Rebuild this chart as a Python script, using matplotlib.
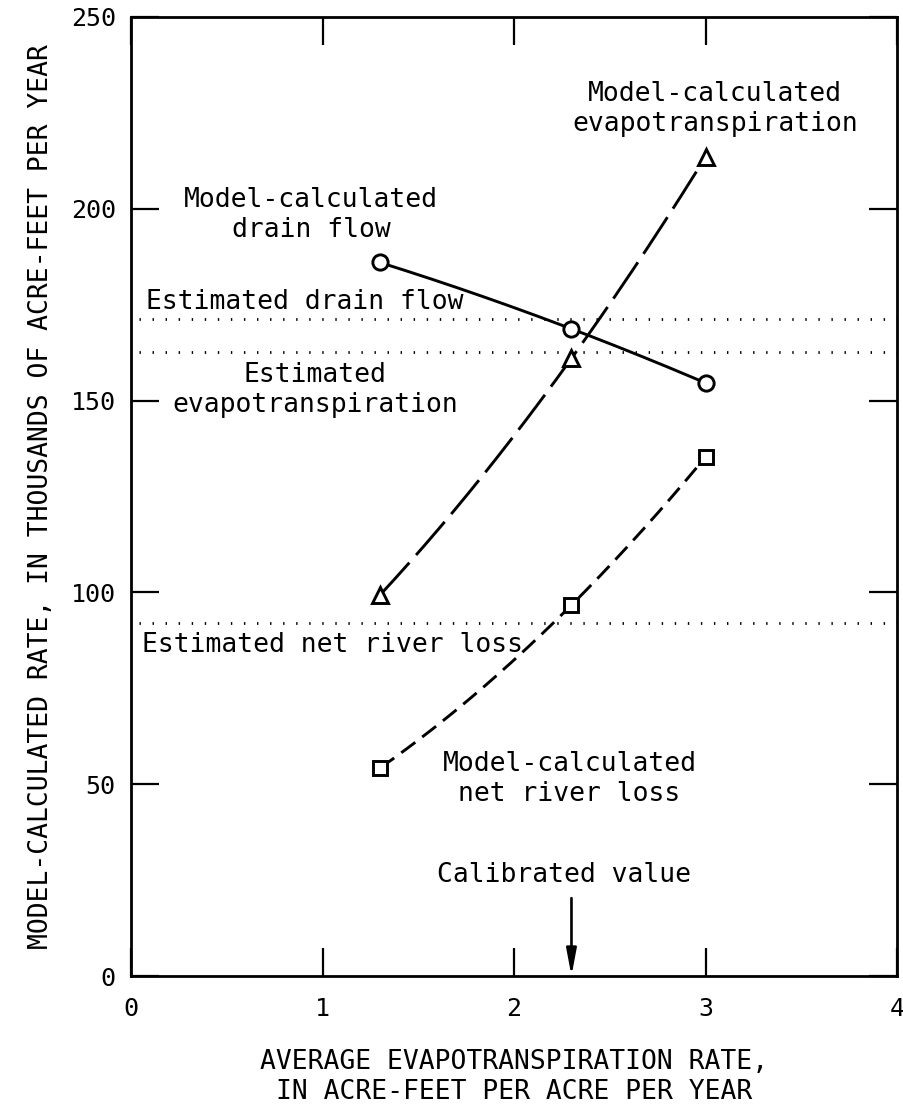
import numpy as np
import matplotlib.pyplot as plt

plt.rcParams['font.family'] = ['DejaVu Sans Mono']

# values
et_rate = [1.3, 2.3, 3.0]
drain_flow = [186, 168.7, 154.6]
evapotranspiration = [99.3, 161, 213.5]
net_river_loss = [54.2, 96.7, 135.3]

est_drain_flow = 171.3
est_evapotranspiration = 162.7
est_net_river_loss = 92.0
calibrated_value = 2.3

xticks = [0, 1, 2, 3, 4]
yticks = [0, 50, 100, 150, 200, 250]

fig = plt.figure(figsize=(9.04, 11.10), dpi=100)
ax = fig.add_axes([0.1449, 0.1207, 0.8474, 0.864])

def smooth(xs, ys):
    # smooth line through the three plotted points
    c = np.polyfit(xs, ys, 2)
    xx = np.linspace(xs[0], xs[-1], 200)
    return xx, np.polyval(c, xx)

lw = 2.1
xx, yy = smooth(et_rate, drain_flow)
ax.plot(xx, yy, color='black', lw=lw, solid_capstyle='butt')
xx, yy = smooth(et_rate, evapotranspiration)
ax.plot(xx, yy, color='black', lw=lw, dashes=(15, 3.5))
xx, yy = smooth(et_rate, net_river_loss)
ax.plot(xx, yy, color='black', lw=lw, dashes=(6, 3))

mk = dict(color='black', markerfacecolor='white', markeredgewidth=2.1, linestyle='none', zorder=5)
ax.plot(et_rate, drain_flow, marker='o', markersize=11, **mk)
ax.plot(et_rate, evapotranspiration, marker='^', markersize=12, **mk)
ax.plot(et_rate, net_river_loss, marker='s', markersize=10.5, **mk)

# estimated values (dotted)
for yv in [est_drain_flow, est_evapotranspiration, est_net_river_loss]:
    ax.axhline(yv, color='black', lw=2.0, dashes=(0.5, 4.2), xmin=0.01)

fs = 19
ax.text(3.05, 226, 'Model-calculated\nevapotranspiration', ha='center', va='center', fontsize=fs)
ax.text(0.94, 198.4, 'Model-calculated\ndrain flow', ha='center', va='center', fontsize=fs)
ax.text(0.08, 175.7, 'Estimated drain flow', ha='left', va='center', fontsize=fs)
ax.text(0.96, 152.8, 'Estimated\nevapotranspiration', ha='center', va='center', fontsize=fs)
ax.text(0.06, 86.3, 'Estimated net river loss', ha='left', va='center', fontsize=fs)
ax.text(2.29, 51.4, 'Model-calculated\nnet river loss', ha='center', va='center', fontsize=fs)
ax.text(2.26, 26.3, 'Calibrated value', ha='center', va='center', fontsize=fs)

ax.annotate('', xy=(calibrated_value, 0), xytext=(calibrated_value, 20.3),
            arrowprops=dict(arrowstyle='-|>,head_length=1.6,head_width=0.3', color='black', lw=1.9,
                            shrinkA=0, shrinkB=0))

ax.set_xlim(0, 4)
ax.set_ylim(0, 250)
ax.set_xticks(xticks)
ax.set_yticks(yticks)
ax.tick_params(direction='in', length=20, width=1.6, top=True, right=True, labelsize=18)
ax.tick_params(axis='x', pad=15)
ax.tick_params(axis='y', pad=11)
for s in ax.spines.values():
    s.set_linewidth(2.0)

ax.set_xlabel('AVERAGE EVAPOTRANSPIRATION RATE,\nIN ACRE-FEET PER ACRE PER YEAR', fontsize=fs, labelpad=20)
ax.set_ylabel('MODEL-CALCULATED RATE, IN THOUSANDS OF ACRE-FEET PER YEAR', fontsize=fs, labelpad=12)

plt.savefig('out.png', dpi=100)
